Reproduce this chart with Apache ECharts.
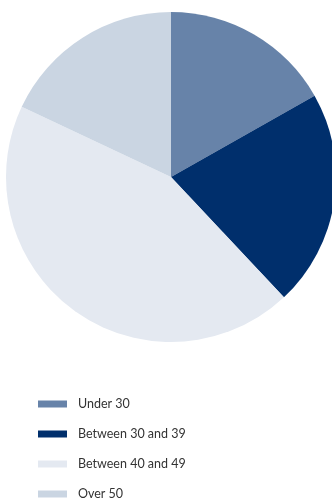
<!DOCTYPE html>
<html>
<head>
<meta charset="utf-8">
<script src="https://cdn.jsdelivr.net/npm/echarts@6/dist/echarts.min.js"></script>
<style>
  html, body { margin: 0; padding: 0; background: #ffffff; }
  #chart { width: 332px; height: 500px; }
</style>
</head>
<body>
<div id="chart"></div>
<script>
// Age groups and their shares (percent)
const categories = ['Under 30', 'Between 30 and 39', 'Between 40 and 49', 'Over 50'];
const shares = [16.8, 21.2, 44.0, 18.0];
const colors = ['#6783a9', '#002f6c', '#e4e9f1', '#cad5e2'];

const chart = echarts.init(document.getElementById('chart'), null, { renderer: 'canvas' });

chart.setOption({
  animation: false,
  color: colors,
  legend: {
    orient: 'vertical',
    left: 38,
    top: 397,
    height: 110,
    padding: 0,
    itemWidth: 29,
    itemHeight: 7,
    itemGap: 16,
    icon: 'rect',
    selectedMode: false,
    data: categories,
    textStyle: {
      fontFamily: 'Lato',
      fontSize: 12.5,
      color: '#333333',
      lineHeight: 14,
      padding: [0, 0, 0, 6]
    }
  },
  series: [{
    type: 'pie',
    center: [171, 177],
    radius: [0, 165],
    startAngle: 90,
    clockwise: true,
    silent: true,
    label: { show: false },
    labelLine: { show: false },
    itemStyle: { borderWidth: 0 },
    data: categories.map((name, i) => ({ name: name, value: shares[i] }))
  }]
});
</script>
</body>
</html>
